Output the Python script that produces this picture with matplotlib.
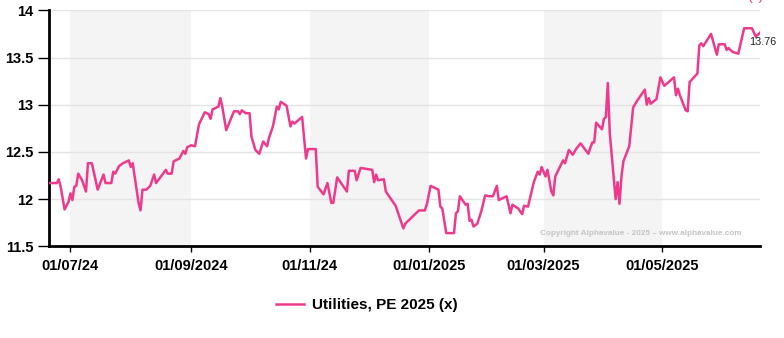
import matplotlib
matplotlib.use("Agg")
import matplotlib.pyplot as plt
import numpy as np
import pandas as pd

plt.rcParams['font.family'] = ['Liberation Sans', 'DejaVu Sans']

# series: days since 20/06/2024 and PE values
start = pd.Timestamp("2024-06-20")
days = [0, 4, 5, 6, 8, 10, 11, 12, 13, 14, 15, 17, 19, 20, 22, 25, 28, 29, 32, 33,
        34, 36, 38, 41, 42, 43, 46, 47, 48, 50, 52, 54, 55, 60, 61, 63, 64, 67, 69, 70,
        71, 73, 75, 77, 80, 82, 83, 84, 87, 88, 89, 91, 95, 97, 98, 99, 101, 103, 104, 106,
        108, 110, 112, 113, 115, 117, 118, 119, 122, 124, 125, 126, 130, 132, 133, 137, 138, 141, 143, 145,
        146, 148, 150, 153, 154, 157, 158, 160, 166, 167, 168, 169, 172, 173, 178, 182, 183, 190, 193, 194,
        196, 198, 200, 201, 202, 204, 208, 209, 210, 211, 214, 215, 216, 217, 218, 220, 222, 224, 226, 228,
        230, 231, 232, 235, 237, 238, 241, 243, 244, 246, 249, 251, 252, 253, 255, 256, 258, 259, 260, 264,
        265, 267, 269, 271, 273, 277, 279, 280, 281, 284, 285, 286, 287, 288, 291, 292, 293, 294, 295, 298,
        300, 302, 306, 307, 308, 309, 312, 314, 316, 321, 322, 323, 324, 327, 328, 329, 333, 334, 335, 336,
        340, 343, 344, 347, 348, 349, 351, 354, 357, 361, 363, 365]
pe = [12.17, 12.17, 12.21, 12.13, 11.89, 11.97, 12.06, 11.99, 12.13, 12.14, 12.27, 12.20, 12.08, 12.38, 12.38, 12.10, 12.26, 12.17, 12.17, 12.29,
      12.27, 12.35, 12.38, 12.41, 12.34, 12.38, 11.96, 11.88, 12.10, 12.10, 12.14, 12.26, 12.17, 12.31, 12.27, 12.27, 12.40, 12.43, 12.51, 12.48,
      12.55, 12.57, 12.56, 12.79, 12.92, 12.90, 12.85, 12.95, 12.98, 13.07, 12.98, 12.73, 12.93, 12.93, 12.90, 12.94, 12.91, 12.91, 12.66, 12.52,
      12.48, 12.61, 12.56, 12.65, 12.77, 12.98, 12.95, 13.03, 12.99, 12.77, 12.82, 12.80, 12.87, 12.43, 12.53, 12.53, 12.13, 12.05, 12.17, 11.96,
      11.96, 12.23, 12.17, 12.08, 12.30, 12.30, 12.20, 12.33, 12.31, 12.18, 12.26, 12.20, 12.21, 12.08, 11.93, 11.69, 11.74, 11.88, 11.88, 11.94,
      12.14, 12.12, 12.10, 11.92, 11.90, 11.64, 11.64, 11.85, 11.87, 12.03, 11.94, 11.95, 11.77, 11.78, 11.71, 11.74, 11.87, 12.04, 12.03, 12.03,
      12.14, 11.99, 12.00, 12.03, 11.85, 11.94, 11.90, 11.84, 11.93, 11.92, 12.18, 12.29, 12.26, 12.34, 12.24, 12.31, 12.08, 12.04, 12.24, 12.41,
      12.38, 12.52, 12.47, 12.54, 12.59, 12.48, 12.60, 12.60, 12.81, 12.74, 12.85, 12.87, 13.23, 12.70, 12.00, 12.18, 11.95, 12.24, 12.40, 12.56,
      12.97, 13.04, 13.16, 13.00, 13.07, 13.01, 13.06, 13.29, 13.20, 13.29, 13.10, 13.17, 13.10, 12.94, 12.93, 13.24, 13.33, 13.63, 13.65, 13.62,
      13.75, 13.53, 13.64, 13.64, 13.58, 13.60, 13.56, 13.54, 13.81, 13.81, 13.72, 13.76]

tick_dates = ["2024-07-01", "2024-09-01", "2024-11-01", "2025-01-01", "2025-03-01", "2025-05-01"]
tick_labels = ["01/07/24", "01/09/2024", "01/11/24", "01/01/2025", "01/03/2025", "01/05/2025"]
bands = [("2024-07-01", "2024-09-01"), ("2024-11-01", "2025-01-01"), ("2025-03-01", "2025-05-01")]
y_ticks = [11.5, 12, 12.5, 13, 13.5, 14]
series_name = "Utilities, PE 2025 (x)"

dates = start + pd.to_timedelta(days, unit="D")
pink = "#ee3a8c"

fig = plt.figure(figsize=(7.84, 3.38), dpi=100)
ax = fig.add_axes([0.0625, 0.2713, 0.9065, 0.6982])

for a, b in bands:
    ax.axvspan(pd.Timestamp(a), pd.Timestamp(b), color="#f4f4f4", zorder=0, lw=0)
for yv in y_ticks[1:]:
    ax.axhline(yv, color="#e4e4e4", lw=1, zorder=1)

ax.plot(dates, pe, color=pink, lw=1.8, zorder=3, label=series_name)
ax.annotate("%.2f" % pe[-1], (dates[-1], pe[-1]), xytext=(-11, -9),
            textcoords="offset pixels", fontsize=7.8, color="#222222",
            ha="left", va="center")

ax.set_xlim(dates[0], dates[-1])
ax.set_ylim(11.5, 14)
ax.set_yticks(y_ticks)
ax.set_yticklabels(["%g" % v for v in y_ticks], fontweight="bold", fontsize=10.5)
ax.set_xticks([pd.Timestamp(d) for d in tick_dates])
ax.set_xticklabels(tick_labels, fontweight="bold", fontsize=10.5)
ax.tick_params(axis="y", length=8, width=1, pad=3)
ax.tick_params(axis="x", length=4, width=1, pad=5)

for s in ["top", "right"]:
    ax.spines[s].set_visible(False)
ax.spines["left"].set_linewidth(2)
ax.spines["bottom"].set_linewidth(2)

ax.text(0.975, 0.055, "Copyright Alphavalue - 2025 \u2013 www.alphavalue.com",
        transform=ax.transAxes, ha="right", va="center", fontsize=5.9,
        color="#c4c4c4", fontweight="bold")

fig.legend(loc="center", bbox_to_anchor=(0.468, 0.098), frameon=False,
           prop={"weight": "bold", "size": 11}, handlelength=1.8, handletextpad=0.55)

# title of the chart sits mostly outside the picture, only its foot shows
fig.text(0.964, 1.012, "(x)", color=pink, fontsize=10, ha="center", va="center")

fig.savefig("out.png", dpi=100)
